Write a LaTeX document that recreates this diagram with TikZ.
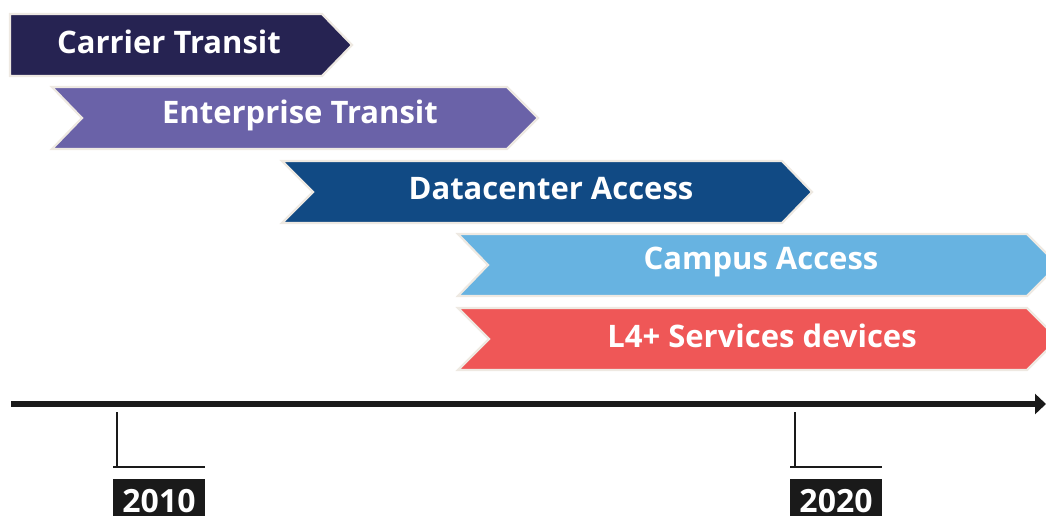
\documentclass[tikz,border=0pt]{standalone}
\usepackage{fontspec}
\setmainfont{Open Sans}
\usetikzlibrary{arrows.meta}
\definecolor{cCarrier}{HTML}{262352}
\definecolor{cEnter}{HTML}{6A62A8}
\definecolor{cData}{HTML}{114A84}
\definecolor{cCampus}{HTML}{67B3E1}
\definecolor{cLfour}{HTML}{EF5757}
\definecolor{cEdge}{HTML}{EEE9E2}
\definecolor{cAxis}{HTML}{1A1A1A}
\tikzset{
  band/.style={draw=cEdge, line width=2.2pt, line join=miter},
  bandtext/.style={text=white, font=\fontsize{31}{36}\selectfont\bfseries, inner sep=0pt},
  tickline/.style={draw=cAxis, line width=1.6pt},
  yearbox/.style={fill=cAxis, text=white, font=\fontsize{32}{37}\selectfont\bfseries, minimum width=92pt, minimum height=44pt, inner sep=0pt, anchor=north, text depth=0pt},
  axisline/.style={draw=cAxis, line width=6pt, -{Triangle[length=11pt,width=20pt]}}
}
\begin{document}
\begin{tikzpicture}[x=1pt,y=-1pt]
\useasboundingbox (0,0) rectangle (1046,515);
\begin{scope}
\clip (0,0) rectangle (1046,515);
% bands
\path[band, fill=cCarrier] (10,14) -- (322,14) -- (352,45) -- (322,76) -- (10,76) -- cycle;
\node[bandtext] (carrier) at (169,42) {Carrier Transit};
\path[band, fill=cEnter] (52,87) -- (507,87) -- (538,118) -- (507,149) -- (52,149) -- (82,118) -- cycle;
\node[bandtext] (enter) at (300,115) {Enterprise Transit};
\path[band, fill=cData] (282,161) -- (782,161) -- (812,192) -- (782,223) -- (282,223) -- (313,192) -- cycle;
\node[bandtext] (data) at (551,189) {Datacenter Access};
\path[band, fill=cCampus] (458,234) -- (1027,234) -- (1058,265) -- (1027,296) -- (458,296) -- (488,265) -- cycle;
\node[bandtext] (campus) at (761,262) {Campus Access};
\path[band, fill=cLfour] (458,308) -- (1027,308) -- (1058,339) -- (1027,370) -- (458,370) -- (489,339) -- cycle;
\node[bandtext] (lfour) at (762,336) {L4+ Services devices};
% axis
\coordinate (axL) at (11,404);
\coordinate (axR) at (1046,404);
\draw[axisline] (axL) -- (axR);
% ticks
\coordinate (t1a) at (117,412);
\coordinate (t1b) at (117,467);
\coordinate (t1c) at (113,467);
\coordinate (t1d) at (205,467);
\draw[tickline] (t1a) -- (t1b);
\draw[tickline] (t1c) -- (t1d);
\node[yearbox] (y2010) at (159,479) {2010};
\coordinate (t2a) at (795,412);
\coordinate (t2b) at (795,467);
\coordinate (t2c) at (790,467);
\coordinate (t2d) at (882,467);
\draw[tickline] (t2a) -- (t2b);
\draw[tickline] (t2c) -- (t2d);
\node[yearbox] (y2020) at (836,479) {2020};
\end{scope}
\end{tikzpicture}
\end{document}
